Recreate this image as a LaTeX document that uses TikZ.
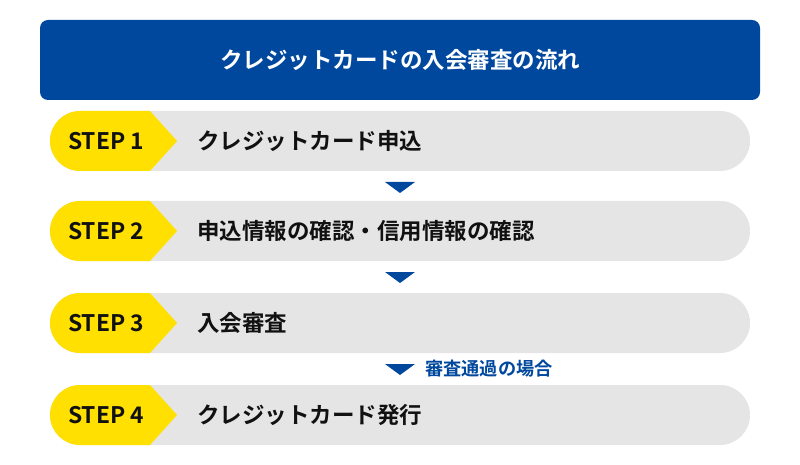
\documentclass[tikz,border=0pt]{standalone}
\usepackage{fontspec}
\newfontfamily\jp{Noto Sans CJK JP}[BoldFont={* Bold}]
\definecolor{hdrblue}{HTML}{00489D}
\definecolor{stepyellow}{HTML}{FFE000}
\definecolor{rowgray}{HTML}{E5E5E5}
\definecolor{txtblack}{HTML}{111111}
\begin{document}
\begin{tikzpicture}[x=1pt,y=1pt,
  titletext/.style={text=white, inner sep=0pt, font=\jp\bfseries\fontsize{22.5}{22.5}\selectfont},
  steplbl/.style={text=txtblack, inner sep=0pt, anchor=west, font=\jp\bfseries\fontsize{22.8}{22.8}\selectfont},
  steptext/.style={text=txtblack, inner sep=0pt, anchor=west, font=\jp\bfseries\fontsize{22.5}{22.5}\selectfont},
  condtext/.style={text=hdrblue, inner sep=0pt, anchor=west, font=\jp\bfseries\fontsize{18.2}{18.2}\selectfont},
  downtri/.style={fill=hdrblue}
]
\useasboundingbox (0,0) rectangle (800,464);
\fill[hdrblue, rounded corners=8pt] (40,444) rectangle (760,364);
\node[titletext] (title) at (400,404) {クレジットカードの入会審査の流れ};
\foreach \i/\y/\t in {1/323/クレジットカード申込, 2/233/申込情報の確認・信用情報の確認, 3/141/入会審査, 4/49/クレジットカード発行}{
  \fill[rowgray, rounded corners=30pt] (50,\y-30) rectangle (750,\y+30);
  \fill[stepyellow] (150,\y+30) -- (177,\y) -- (150,\y-30) -- (80,\y-30) arc[start angle=270,end angle=90,radius=30] -- cycle;
  \node[steplbl] (s\i) at (68,\y) {STEP \i};
  \node[steptext] (t\i) at (197,\y) {\t};
}
\foreach \j/\y in {1/282, 2/192, 3/100}{
  \coordinate (a\j) at (400,\y);
  \fill[downtri] ([xshift=-15pt]a\j) -- ([xshift=15pt]a\j) -- ([yshift=-11pt]a\j) -- cycle;
}
\node[condtext] (cond) at (425,95) {審査通過の場合};
\end{tikzpicture}
\end{document}
